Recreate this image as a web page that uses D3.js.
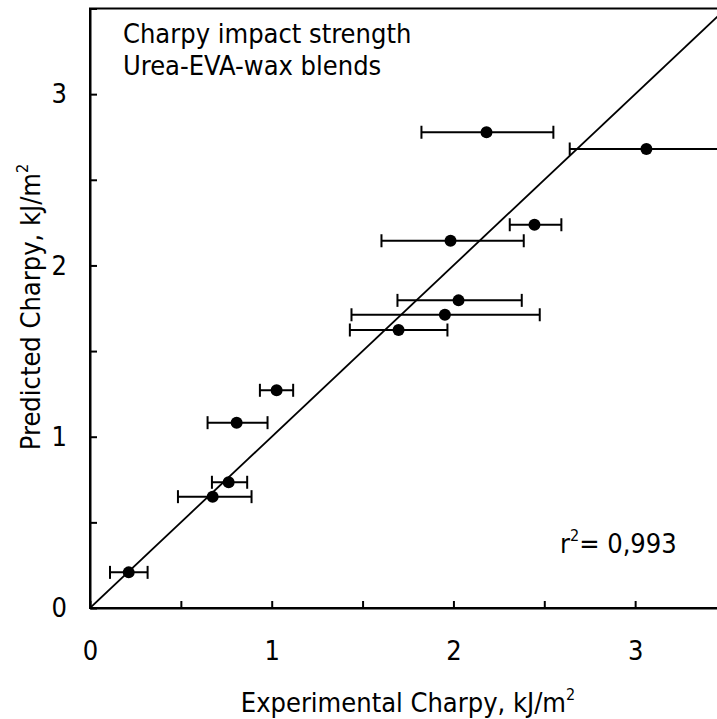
<!DOCTYPE html>
<html>
<head>
<meta charset="utf-8">
<script src="https://cdn.jsdelivr.net/npm/d3@7"></script>
<style>
  body { margin: 0; background: #fff; }
  text { font-family: "DejaVu Sans Condensed", "DejaVu Sans", sans-serif; font-stretch: condensed; fill: #000; }
</style>
</head>
<body>
<svg></svg>
<script>
var width = 717;
var height = 719;

// experimental value (x), predicted value (y), and the x error bar ends
var experimental = [0.213, 0.675, 0.763, 0.807, 1.027, 1.698, 1.953, 2.028, 1.984, 2.446, 2.182, 3.062];
var predicted    = [0.208, 0.650, 0.734, 1.082, 1.271, 1.623, 1.712, 1.796, 2.144, 2.238, 2.777, 2.680];
var errLow       = [0.110, 0.484, 0.671, 0.647, 0.935, 1.430, 1.439, 1.692, 1.604, 2.310, 1.824, 2.640];
var errHigh      = [0.317, 0.889, 0.865, 0.977, 1.118, 1.967, 2.475, 2.376, 2.387, 2.594, 2.550, 3.480];

var tickValues = [0, 0.5, 1, 1.5, 2, 2.5, 3, 3.5];
var tickLabels = ["0", "", "1", "", "2", "", "3", ""];

var titleLines = ["Charpy impact strength", "Urea-EVA-wax blends"];
var rSquared = "0,993";

var fs = 27, sup = 16;

var svg = d3.select("svg")
    .attr("width", width)
    .attr("height", height);

var x = d3.scaleLinear().domain([0, 3.5]).range([90, 726]);
var y = d3.scaleLinear().domain([0, 3.5]).range([608, 8.5]);

svg.append("defs").append("clipPath")
    .attr("id", "plot")
    .append("rect")
    .attr("x", x(0)).attr("y", y(3.5))
    .attr("width", x(3.5) - x(0)).attr("height", y(0) - y(3.5));

// frame
svg.append("rect")
    .attr("x", x(0)).attr("y", y(3.5))
    .attr("width", x(3.5) - x(0)).attr("height", y(0) - y(3.5))
    .attr("fill", "none")
    .attr("stroke", "#000")
    .attr("stroke-width", 2);

var xAxis = d3.axisBottom(x)
    .tickValues(tickValues)
    .tickSizeInner(-7)
    .tickSizeOuter(0)
    .tickPadding(33)
    .tickFormat(function(d, i) { return tickLabels[i]; });

var yAxis = d3.axisLeft(y)
    .tickValues(tickValues)
    .tickSizeInner(-7)
    .tickSizeOuter(0)
    .tickPadding(23)
    .tickFormat(function(d, i) { return tickLabels[i]; });

var gx = svg.append("g")
    .attr("transform", "translate(0," + y(0) + ")")
    .call(xAxis);

var gy = svg.append("g")
    .attr("transform", "translate(" + x(0) + ",0)")
    .call(yAxis);

[gx, gy].forEach(function(g) {
    g.selectAll("path, line").attr("stroke", "#000").attr("stroke-width", 2);
    g.selectAll("text").attr("font-size", fs).attr("fill", "#000")
        .style("font-family", '"DejaVu Sans Condensed", "DejaVu Sans", sans-serif');
});

var plot = svg.append("g").attr("clip-path", "url(#plot)");

// y = x line
plot.append("line")
    .attr("x1", x(0)).attr("y1", y(0))
    .attr("x2", x(3.5)).attr("y2", y(3.5))
    .attr("stroke", "#000")
    .attr("stroke-width", 1.8);

var idx = d3.range(experimental.length);
var cap = 6.5;

var bars = plot.append("g")
    .attr("stroke", "#000")
    .attr("stroke-width", 2);

bars.selectAll("line.bar")
    .data(idx)
    .enter()
    .append("line")
    .attr("class", "bar")
    .attr("x1", function(i) { return x(errLow[i]); })
    .attr("x2", function(i) { return x(errHigh[i]); })
    .attr("y1", function(i) { return y(predicted[i]); })
    .attr("y2", function(i) { return y(predicted[i]); });

bars.selectAll("line.capl")
    .data(idx)
    .enter()
    .append("line")
    .attr("class", "capl")
    .attr("x1", function(i) { return x(errLow[i]); })
    .attr("x2", function(i) { return x(errLow[i]); })
    .attr("y1", function(i) { return y(predicted[i]) - cap; })
    .attr("y2", function(i) { return y(predicted[i]) + cap; });

bars.selectAll("line.caph")
    .data(idx)
    .enter()
    .append("line")
    .attr("class", "caph")
    .attr("x1", function(i) { return x(errHigh[i]); })
    .attr("x2", function(i) { return x(errHigh[i]); })
    .attr("y1", function(i) { return y(predicted[i]) - cap; })
    .attr("y2", function(i) { return y(predicted[i]) + cap; });

plot.selectAll("circle")
    .data(idx)
    .enter()
    .append("circle")
    .attr("cx", function(i) { return x(experimental[i]); })
    .attr("cy", function(i) { return y(predicted[i]); })
    .attr("r", 6)
    .attr("fill", "#000");

// annotation
svg.selectAll("text.title")
    .data(titleLines)
    .enter()
    .append("text")
    .attr("class", "title")
    .attr("x", 123)
    .attr("y", function(d, i) { return 43 + i * 32; })
    .attr("font-size", fs)
    .text(function(d) { return d; });

var r2 = svg.append("text")
    .attr("x", 560)
    .attr("y", 553)
    .attr("font-size", fs);
r2.append("tspan").text("r");
r2.append("tspan").attr("font-size", sup).attr("dy", -12).text("2");
r2.append("tspan").attr("dy", 12).text("= " + rSquared);

// axis titles
var xt = svg.append("text")
    .attr("x", 408)
    .attr("y", 712)
    .attr("text-anchor", "middle")
    .attr("font-size", fs);
xt.append("tspan").text("Experimental Charpy, kJ/m");
xt.append("tspan").attr("font-size", sup).attr("dy", -12).text("2");

var yt = svg.append("text")
    .attr("transform", "translate(40,307) rotate(-90)")
    .attr("text-anchor", "middle")
    .attr("font-size", fs);
yt.append("tspan").text("Predicted Charpy, kJ/m");
yt.append("tspan").attr("font-size", sup).attr("dy", -12).text("2");
</script>
</body>
</html>
